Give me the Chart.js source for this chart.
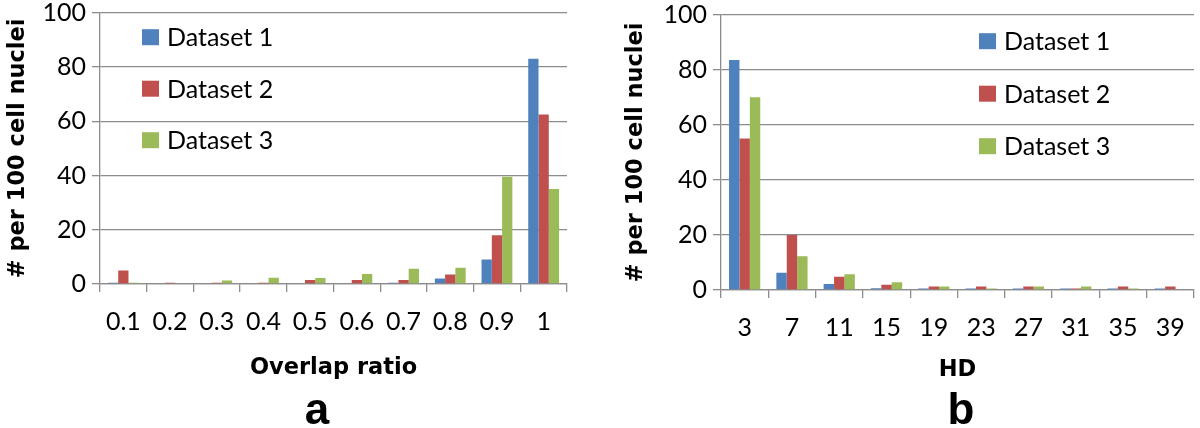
<!DOCTYPE html>
<html>
<head>
<meta charset="utf-8">
<script src="https://cdn.jsdelivr.net/npm/chart.js@4.4.1/dist/chart.umd.min.js"></script>
<style>
  body { margin: 0; background: #fff; }
  .panel { position: absolute; top: 0; width: 600px; height: 428px; }
</style>
</head>
<body>
<div class="panel" style="left:0"><canvas id="chartA" width="600" height="428"></canvas></div>
<div class="panel" style="left:600px"><canvas id="chartB" width="600" height="428"></canvas></div>
<script>
// Datos
const seriesNames = ['Dataset 1', 'Dataset 2', 'Dataset 3'];
const colors = ['#4F81BD', '#C0504D', '#9BBB59'];

const overlapLabels = ['0.1', '0.2', '0.3', '0.4', '0.5', '0.6', '0.7', '0.8', '0.9', '1'];
const overlapD1 = [0.5, 0, 0, 0, 0, 0, 0.5, 2, 9, 83];
const overlapD2 = [5, 0.5, 0.5, 0.5, 1.5, 1.5, 1.5, 3.5, 18, 62.5];
const overlapD3 = [0.5, 0, 1.3, 2.3, 2.2, 3.7, 5.6, 6, 39.5, 35];

const hdLabels = ['3', '7', '11', '15', '19', '23', '27', '31', '35', '39'];
const hdD1 = [83.5, 6.3, 2.2, 0.6, 0.5, 0.5, 0.5, 0.5, 0.5, 0.5];
const hdD2 = [55, 20, 4.8, 1.9, 1.3, 1.3, 1.3, 0.5, 1.3, 1.3];
const hdD3 = [70, 12.3, 5.7, 2.8, 1.3, 0.5, 1.3, 1.3, 0.5, 0.3];

const yTicks = [0, 20, 40, 60, 80, 100];

const FONT = 'Lato';
const TITLE_FONT = '"DejaVu Sans"';
const GRID = '#8c8c8c';

// Leyenda dentro del área y letra del panel
const panelPlugin = {
  id: 'panel',
  afterDraw(chart, args, opts) {
    const ctx = chart.ctx;
    const area = chart.chartArea;
    ctx.save();
    ctx.font = '25px ' + FONT;
    ctx.textBaseline = 'middle';
    ctx.textAlign = 'left';
    chart.data.datasets.forEach((ds, i) => {
      const x = area.left + opts.legendX;
      const y = area.top + opts.legendY + i * opts.legendGap;
      ctx.fillStyle = ds.backgroundColor;
      ctx.fillRect(x, y - 8, 17, 16);
      ctx.fillStyle = '#000';
      ctx.fillText(ds.label, x + 25, y + 1);
    });
    ctx.font = 'bold 44px "Liberation Sans", Arial';
    ctx.textAlign = 'center';
    ctx.textBaseline = 'alphabetic';
    ctx.fillText(opts.letter, opts.letterX, opts.letterY);
    ctx.restore();
  }
};

function makeChart(id, labels, values, xTitle, o) {
  const ctx = document.getElementById(id).getContext('2d');
  const data = {
    labels: labels,
    datasets: values.map((v, i) => ({
      label: seriesNames[i],
      data: v,
      backgroundColor: colors[i],
      borderWidth: 0,
      categoryPercentage: 0.66,
      barPercentage: 1.0
    }))
  };
  const config = {
    type: 'bar',
    data: data,
    plugins: [panelPlugin],
    options: {
      responsive: false,
      animation: false,
      layout: { padding: { left: 0, right: o.padRight, top: o.padTop, bottom: o.padBottom } },
      plugins: {
        legend: { display: false },
        tooltip: { enabled: false },
        panel: { legendX: o.legendX, legendY: o.legendY, legendGap: o.legendGap, letter: o.letter, letterX: o.letterX, letterY: o.letterY }
      },
      scales: {
        x: {
          offset: true,
          grid: { offset: true, drawOnChartArea: false, color: GRID, lineWidth: 1.3, tickLength: 8 },
          border: { color: GRID, width: 1.3 },
          ticks: { color: '#000', font: { family: FONT, size: 25 }, padding: 15, maxRotation: 0 },
          title: { display: true, text: xTitle, color: '#000', font: { family: TITLE_FONT, size: 22.5, weight: 'bold' }, padding: { top: 0, bottom: 0 } },
          afterFit: s => { s.height = o.xHeight; }
        },
        y: {
          min: 0,
          max: 100,
          afterBuildTicks: s => { s.ticks = yTicks.map(v => ({ value: v })); },
          grid: { color: GRID, lineWidth: 1.3, tickLength: 8 },
          border: { color: GRID, width: 1.3 },
          ticks: { color: '#000', font: { family: FONT, size: 25, lineHeight: 0.4 }, padding: 6 },
          title: { display: true, text: '# per 100 cell nuclei', color: '#000', font: { family: TITLE_FONT, size: 22.5, weight: 'bold' }, padding: { top: o.yTitlePad, bottom: 0 } },
          afterFit: s => { s.width = o.yWidth; }
        }
      }
    }
  };
  return new Chart(ctx, config);
}

makeChart('chartA', overlapLabels, [overlapD1, overlapD2, overlapD3], 'Overlap ratio', {
  padRight: 33, padTop: 12.7, padBottom: 46, xHeight: 98, yWidth: 100, yTitlePad: 4.5,
  legendX: 42, legendY: 24.5, legendGap: 51.5, letter: 'a', letterX: 317, letterY: 424
});
makeChart('chartB', hdLabels, [hdD1, hdD2, hdD3], 'HD', {
  padRight: 3, padTop: 14.7, padBottom: 44.5, xHeight: 93.5, yWidth: 121, yTitlePad: 23,
  legendX: 258, legendY: 26.5, legendGap: 52.5, letter: 'b', letterX: 361, letterY: 424
});
</script>
</body>
</html>
